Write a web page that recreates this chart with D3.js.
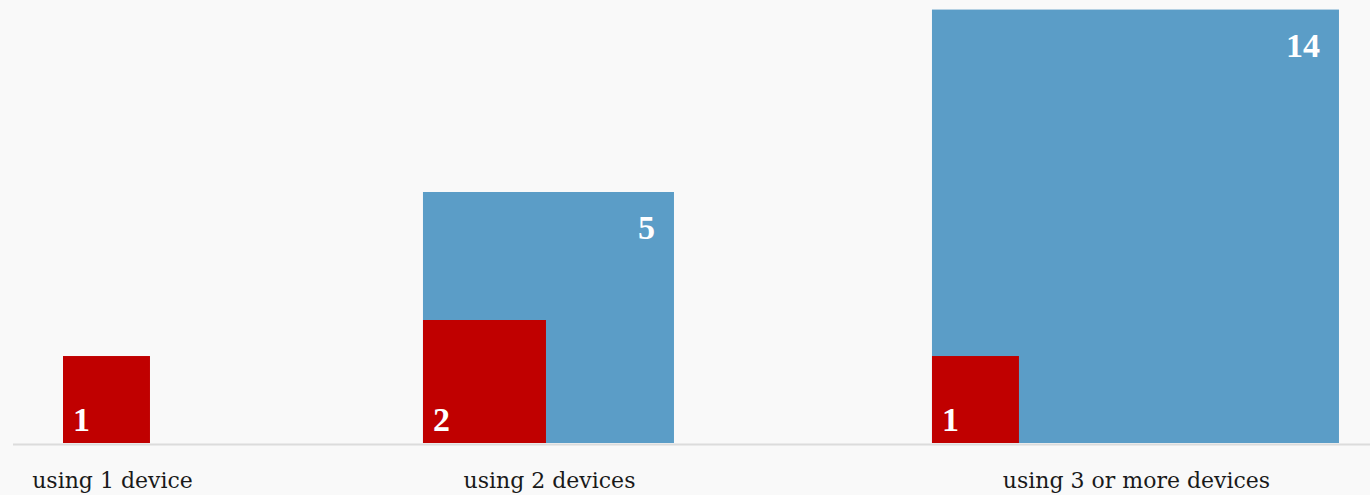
<!DOCTYPE html>
<meta charset="utf-8">
<script src="https://d3js.org/d3.v7.min.js"></script>
<style>
body { margin: 0; background: #f9f9f9; }
.group-label { font-family: "DejaVu Serif", serif; font-size: 22px; fill: #1a1a1a; }
.value-label { font-family: "Liberation Serif", serif; font-weight: bold; font-size: 34px; fill: #fff; }
</style>
<body></body>
<script>

var groups = ["using 1 device", "using 2 devices", "using 3 or more devices"];
var redValues = [1, 2, 1];
var blueValues = [0, 5, 14];

var width = 1370, height = 495;
var baseline = 443;
var left = 63;
var gaps = [273, 258];
var maxBoxWidth = 407;

var svg = d3.select("body").append("svg")
    .attr("width", width)
    .attr("height", height);

// side of a square is sqrt of the value (area proportional)
var blueSide = d3.scaleSqrt().domain([0, 5]).range([0, 251]);
var redSide = d3.scaleSqrt().domain([0, 2]).range([0, 123]);

function box(side) {
  var w = Math.min(side, maxBoxWidth);
  return { w: w, h: w ? side * side / w : 0 };
}

var data = groups.map(function(g, i) {
  return {
    label: g,
    red: redValues[i],
    blue: blueValues[i],
    redBox: box(redSide(redValues[i])),
    blueBox: box(blueSide(blueValues[i]))
  };
});

var x = left;
data.forEach(function(d, i) {
  d.w = Math.max(d.redBox.w, d.blueBox.w);
  d.x = x;
  x += d.w + (gaps[i] || 0);
});

// baseline
svg.append("line")
    .attr("x1", 13).attr("x2", width)
    .attr("y1", baseline + 1.5).attr("y2", baseline + 1.5)
    .attr("stroke", "#dcdcdc")
    .attr("stroke-width", 2);

var g = svg.selectAll(".grp")
  .data(data).enter().append("g")
    .attr("class", "grp")
    .attr("transform", function(d) { return "translate(" + d.x + ",0)"; });

var blue = g.filter(function(d) { return d.blue > 0; });

blue.append("rect")
    .attr("x", 0)
    .attr("y", function(d) { return baseline - d.blueBox.h; })
    .attr("width", function(d) { return d.blueBox.w; })
    .attr("height", function(d) { return d.blueBox.h; })
    .attr("fill", "#5b9dc7");

blue.append("text")
    .attr("class", "value-label")
    .attr("text-anchor", "end")
    .attr("x", function(d) { return d.blueBox.w - 19; })
    .attr("y", function(d) { return baseline - d.blueBox.h + 47; })
    .text(function(d) { return d.blue; });

g.append("rect")
    .attr("x", 0)
    .attr("y", function(d) { return baseline - d.redBox.h; })
    .attr("width", function(d) { return d.redBox.w; })
    .attr("height", function(d) { return d.redBox.h; })
    .attr("fill", "#c00000");

g.append("text")
    .attr("class", "value-label")
    .attr("x", 10)
    .attr("y", baseline - 12)
    .text(function(d) { return d.red; });

g.append("text")
    .attr("class", "group-label")
    .attr("text-anchor", "middle")
    .attr("x", function(d, i) { return d.w / 2 + (i === 0 ? 6 : 1); })
    .attr("y", 488)
    .text(function(d) { return d.label; });

</script>
